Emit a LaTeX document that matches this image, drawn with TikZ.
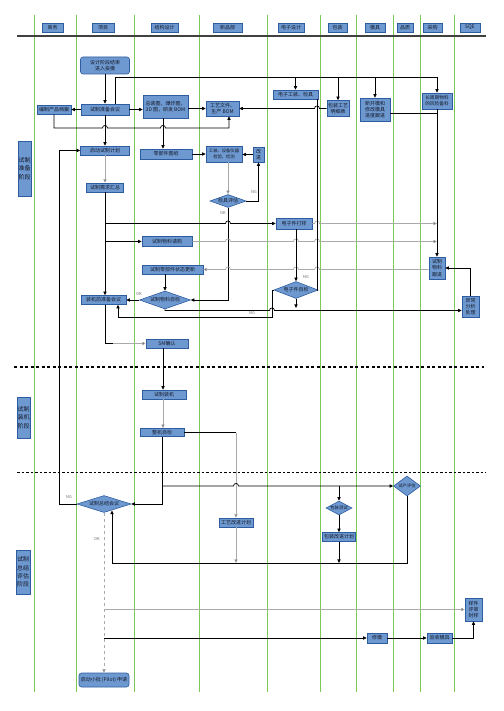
\documentclass[tikz,border=0pt]{standalone}
\usepackage{fontspec}
\setmainfont{Noto Sans CJK SC}
\usetikzlibrary{arrows.meta,shapes.geometric}
\definecolor{bfill}{RGB}{110,153,208}
\definecolor{bdraw}{RGB}{46,92,160}
\definecolor{lanec}{RGB}{125,200,85}
\definecolor{lgray}{RGB}{170,170,170}
\definecolor{txtc}{RGB}{20,25,40}
\newcommand{\myhopR}[2]{-- ({#1-2.5},#2) .. controls ({#1-2.5},{#2-3.4}) and ({#1+2.5},{#2-3.4}) .. ({#1+2.5},#2)}
\newcommand{\myhopL}[2]{-- ({#1+2.5},#2) .. controls ({#1+2.5},{#2-3.4}) and ({#1-2.5},{#2-3.4}) .. ({#1-2.5},#2)}
\tikzset{
  box/.style={draw=bdraw, fill=bfill, line width=0.6pt, inner sep=0pt, align=center,
    font=\fontsize{5}{6.3}\selectfont, text=txtc},
  bx/.style 2 args={box, minimum width=#1, minimum height=#2},
  rbx/.style 2 args={box, rounded corners=2.5pt, minimum width=#1, minimum height=#2},
  dia/.style 2 args={diamond, draw=bdraw, fill=bfill, line width=0.6pt, inner sep=0pt,
    minimum width=#1, minimum height=#2},
  dtxt/.style={inner sep=0pt, font=\fontsize{5}{6}\selectfont, text=txtc},
  phase/.style={font=\fontsize{6}{8.3}\selectfont},
  lanel/.style={draw=lanec, line width=0.8pt},
  ln/.style={draw=black, line width=0.7pt},
  lnG/.style={draw=lgray, line width=0.7pt},
  arr/.style={ln, -{Triangle[length=3.6pt,width=3.2pt]}},
  arrG/.style={lnG, -{Triangle[length=3.6pt,width=3.2pt,fill=black]}},
  lbl/.style={inner sep=0pt, font=\fontsize{4}{4.5}\selectfont, text=black!60},
}
\begin{document}
\begin{tikzpicture}[x=1pt,y=-1pt]
\useasboundingbox (0,0) rectangle (503,711);
% swim lanes
\foreach \lx in {34,76,134,199,267,320,356,393,420,454}
  \draw[lanel] (\lx,15) -- (\lx,692);
\draw[line width=1.3pt, black!75] (17,36) -- (486,36);
\draw[line width=1.4pt, dash pattern=on 3pt off 2.5pt] (14,367) -- (484,367);
\draw[line width=0.7pt, dash pattern=on 2.5pt off 2pt] (17,472) -- (486,472);

% headers
\node[bx={21}{9}] (hA) at (52.5,27.5) {商务};
\node[bx={22}{9}] (hB) at (103,27.5) {项目};
\node[bx={27}{9}] (hC) at (164.5,27.5) {结构设计};
\node[bx={29}{9}] (hD) at (227.5,27.5) {新品部};
\node[bx={26}{9}] (hE) at (291,27.5) {电子设计};
\node[bx={19}{9}] (hF) at (337.5,27.5) {包装};
\node[bx={20}{9}] (hG) at (375,27.5) {模具};
\node[bx={16}{9}] (hH) at (405,27.5) {品质};
\node[bx={19}{9}] (hI) at (432.5,27.5) {采购};
\node[bx={20}{9}] (hJ) at (470,27.5) {SQE};

% phases
\node[bx={13}{55}, phase] (ph1) at (24.5,168.5) {试制\\准备\\阶段};
\node[bx={13}{41}, phase] (ph2) at (23.5,417.5) {试制\\装机\\阶段};
\node[bx={14}{44}, phase] (ph3) at (23,572) {试制\\总结\\评估\\阶段};

% nodes
\node[rbx={49}{17}] (start) at (105,65.5) {设计阶段结束\\进入投模};
\node[bx={48}{11}] (prep) at (105,109.5) {试制准备会议};
\node[bx={34}{9}] (arch) at (54,109.5) {编制产品档案};
\node[bx={45}{23}] (asm) at (165.5,106.5) {总装图，爆炸图，\\3D 图，研发 BOM};
\node[bx={33}{15}] (proc) at (222.5,108.5) {工艺文件、\\生产 BOM};
\node[bx={45}{9}] (etool) at (295.5,94.5) {电子工装、检具};
\node[bx={22}{16}] (pack) at (338,108.5) {包装工艺\\明细表};
\node[bx={30}{23}] (mold) at (375,109.5) {新开模和\\修改模具\\进度跟进};
\node[bx={30}{16}, font=\fontsize{4.7}{6}\selectfont] (long) at (437,101) {长周期物料\\的风险备料};

\node[bx={49}{9}] (plan) at (105,150.5) {启动试制计划};
\node[bx={37}{9}] (sum) at (105,187.5) {试制需求汇总};
\node[bx={52}{10}] (parts) at (166,154) {零部件图纸};
\node[bx={36}{16}, font=\fontsize{4.3}{5.8}\selectfont] (tool) at (224,154) {工装、设备仪器\\检验、检测};
\node[bx={11}{15}] (imp) at (258.5,154.5) {改\\进};
\node[dia={36}{13}] (jeval) at (228,201) {};
\node[bx={50}{10}] (req) at (167,241.5) {试制物料请购};
\node[bx={61}{9}] (upd) at (172.5,269.5) {试制零部件状态更新};
\node[dia={51}{18}] (mchk) at (165,300) {};
\node[bx={45}{9}] (pre) at (103.5,300) {装机前准备会议};
\node[bx={36}{11}] (eproto) at (294,223.5) {电子件打样};
\node[dia={44}{17}] (echk) at (296,290) {};
\node[bx={16}{22}] (follow) at (437,268) {试制\\物料\\跟进};
\node[bx={17}{21}] (abn) at (470.5,306.5) {异常\\分析\\处理};
\node[bx={42}{9}] (sm) at (167,343.5) {SM确认};
\node[bx={44}{9}] (build) at (164,394.5) {试制装机};
\node[bx={44}{8}] (wchk) at (162,432.5) {整机自检};
\node[bx={34}{9}] (pimp) at (236,522.5) {工艺改进计划};
\node[dia={26}{14}] (ptest) at (339,508) {};
\node[bx={33}{9}] (pkimp) at (339,537) {包装改进计划};
\node[dia={27}{20}] (trial) at (407,486) {};
\node[dia={54}{17}] (summ) at (104,504) {};
\node[rbx={50}{14}] (pilot) at (104,680) {启动小批 (Pilot) 申请};
\node[bx={17}{23}] (sample) at (473.5,609.5) {样件\\评审\\封样};
\node[bx={20}{10}] (fix) at (377,638) {修模};
\node[bx={25}{10}] (acc) at (439.5,638) {验收模具};

% diamond texts
\node[dtxt] (jevalT) at (jeval) {检具评估};
\node[dtxt] (mchkT) at (mchk) {试制物料自检};
\node[dtxt] (echkT) at (echk) {电子件自检};
\node[dtxt, font=\fontsize{4.3}{5}\selectfont] (ptestT) at (ptest) {包装测试};
\node[dtxt, font=\fontsize{4.3}{5}\selectfont] (trialT) at (trial) {试产评估};
\node[dtxt] (summT) at (summ) {试制总结会议};

% guide coordinates
\coordinate (X163) at (163,0);
\coordinate (X228) at (228,0);
\coordinate (X236) at (236,0);
\coordinate (X317) at (317,0);
\coordinate (Y310) at (0,310.5);
\coordinate (Y563) at (0,563);

% connectors
\draw[arr] (start.south) -- (prep.north);
\draw[arr] (prep.west) -- (arch.east);
\draw[arr] (prep.east) -- (prep.east -| asm.west);
\draw[arr] (asm.east |- proc.west) -- (proc.west);
\draw[arr] (pack.west) \myhopL{317}{108.5} -- (proc.east);

\coordinate (d0) at (115,77);
\coordinate (d1) at (437,77);
\draw[ln] (prep.north -| d0) -- (d0) -- (d1);
\draw[arr] (d1) -- (long.north);
\draw[arr] (etool.north |- d0) -- (etool.north);
\draw[arr] (pack.north |- d0) -- (pack.north);
\draw[arr] (mold.north |- d0) -- (mold.north);
\coordinate (m1) at (437,113);
\draw[ln] (mold.east |- m1) -- (m1);

\coordinate (a1) at (54,128);
\coordinate (a2) at (229,128);
\draw[arr] (arch.south) -- (a1) \myhopR{105}{128} \myhopR{163}{128} -- (a2) -- (proc.south -| a2);

\draw[arr] (prep.south) -- (plan.north);
\draw[arr] (asm.south -| X163) -- (parts.north -| X163);
\draw[arrG] (plan.south) -- (sum.north);
\draw[arr] (parts.east) -- (tool.west);
\draw[arr] (imp.west) -- (imp.west -| tool.east);
\draw[arrG] (tool.south -| X228) -- (jeval.north);
\draw[arr] (jeval.east) -| (imp.south);
\draw[arr] (jeval.south) |- (mchk.east);

\draw[arr] (sum.south) -- (pre.north -| sum.south);
\draw[arr] (sum.south |- eproto.west) \myhopR{228}{223.5} -- (eproto.west);
\draw[arr] (sum.south |- req.west) -- (req.west);
\draw[arrG] (eproto.east) \myhopR{317}{223.5} -- (long.south |- eproto.east);
\draw[arrG] (req.east) \myhopR{228}{241.5} \myhopR{296}{241.5} \myhopR{317}{241.5} -- (long.south |- req.east);
\draw[arrG] (follow.west |- upd.east) \myhopL{317}{269.5} \myhopL{296}{269.5} \myhopL{228}{269.5} -- (upd.east);
\draw[arr] (upd.south -| mchk.north) -- (mchk.north);
\draw[arr] (mchk.west) -- (pre.east);
\draw[arr] (mchk.south) -- (mchk.south |- Y310) \myhopR{272}{310.5} -- (abn.west |- Y310);

\coordinate (e1) at (296,308);
\draw[arr] (echk.south) -- (e1);
\coordinate (n1) at (272,317);
\coordinate (n2) at (118,317);
\draw[arr] (echk.west) -| (n1) -- (n2) -- (pre.south -| n2);
\draw[ln] (etool.south -| X317) -- (X317 |- echk.east) -- (echk.east);
\draw[arr] (eproto.south -| echk.north) -- (echk.north);
\draw[arr] (long.south) -- (follow.north);
\draw[arr] (abn.north) |- (follow.east);

\draw[ln] (pre.south -| sum.south) -- (sum.south |- sm.west) -- ++(8,0);
\draw[arrG] ([xshift=8pt]sum.south |- sm.west) -- (sm.west);
\draw[arr] (sm.south -| X163) -- (build.north -| X163);
\draw[arrG] (build.south -| X163) -- (wchk.north -| X163);
\draw[ln] (wchk.east) -- (wchk.east -| X236);
\draw[arrG] (wchk.east -| X236) -- (pimp.north);

\coordinate (w1) at (162,486);
\coordinate (w2) at (162,504);
\draw[arr] (wchk.south) -- (w2) -- (summ.east);
\draw[arr] (w1) \myhopR{236}{486} -- (trial.west);
\draw[arr] (ptest.north |- w1) -- (ptest.north);
\draw[arr] (ptest.south) -- (pkimp.north);
\draw[arr] (pkimp.south) -- (pkimp.south |- Y563);
\draw[arrG] (pimp.south) -- (pimp.south |- Y563);
\coordinate (s1) at (112,563);
\coordinate (s2) at (112,510.5);
\draw[arr] (trial.south) |- (s1) -- (s2);

\coordinate (g1) at (59,504);
\draw[arr] (summ.west) -- (g1) |- (plan.west);
\draw[arrG, dashed] (summ.south) -- (pilot.north);
\coordinate (o1) at (104,609.5);
\coordinate (o2) at (104,638);
\draw[arrG] (o1) -- (sample.west);
\draw[arr] (o2) -- (fix.west);
\draw[arr] (fix.east) -- (acc.west);
\draw[arr] (acc.east) -| (sample.south);

% branch labels
\node[lbl] (t1) at (254,192) {NG};
\node[lbl] (t2) at (223,213) {OK};
\node[lbl] (t3) at (139,294) {OK};
\node[lbl] (t4) at (306,277) {NG};
\node[lbl] (t5) at (252,313.5) {NG};
\node[lbl] (t6) at (69,497) {NG};
\node[lbl] (t7) at (97,539) {OK};
\end{tikzpicture}
\end{document}
